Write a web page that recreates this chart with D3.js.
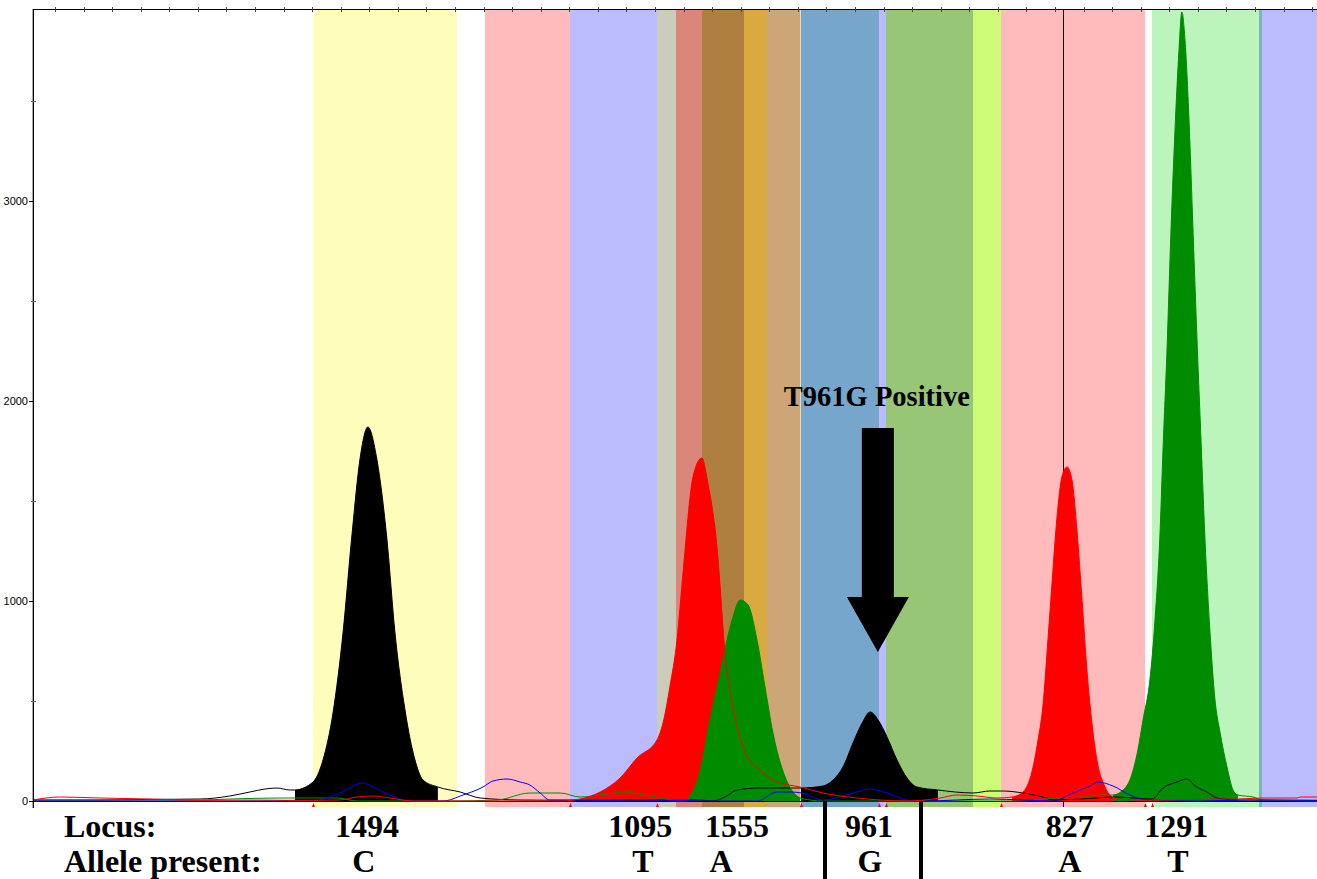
<!DOCTYPE html>
<html><head><meta charset="utf-8">
<script src="https://cdn.jsdelivr.net/npm/d3@7"></script>
<style>html,body{margin:0;padding:0;background:#fff;overflow:hidden}</style>
</head><body><svg id="c" width="1317" height="879"></svg>
<script>
// ---------- DATA ----------
const bandStarts = [903, 1505, 1802.5, 2107, 2173.5, 2264.5, 2411.5, 2492, 2611, 2884, 2908.5, 3213, 3311, 3839.5, 4214, 4224.5];
const bandEnds   = [1407, 1802.5, 2107, 2173.5, 2264.5, 2411.5, 2492, 2609, 2884, 2908.5, 3213, 3311, 3815, 4214, 4224.5, 4417];
const bandColors = ["#FFFDBB", "#FFBBBB", "#BBBBFF", "#CCCCBB", "#DA8678", "#AF7F40", "#DAAA40", "#CCA677", "#77A6CC", "#BBBBFF", "#97C677", "#CDFB77", "#FFBBBB", "#BBF5BB", "#80B4BC", "#BBBBFF"];

const traceBlack = [[-77,5],[157,5],[332,8],[507,10],[612,25],[682,45],[735,60],[777,65],[822,55],[840,55],[903,95],[938,205],[973,440],[1008,840],[1040,1340],[1068,1715],[1095,1870],[1127,1705],[1162,1305],[1190,840],[1225,455],[1260,205],[1288,105],[1340,70],[1418,45],[1488,15],[1628,5],[1908,3],[2258,5],[2300,0],[2345,20],[2387,55],[2468,65],[2572,65],[2611,65],[2688,75],[2723,105],[2758,170],[2793,290],[2825,390],[2853,445],[2881,405],[2912,320],[2947,205],[2982,115],[3017,70],[3090,55],[3213,40],[3272,50],[3318,50],[3388,40],[3458,20],[3493,5],[3588,10],[3710,20],[3773,15],[3840,10],[3878,65],[3927,95],[3962,110],[3990,75],[4032,45],[4067,15],[4137,5],[4417,3]];
const traceRed = [[-77,5],[17,20],[157,15],[332,10],[507,3],[682,5],[857,3],[997,5],[1057,20],[1113,25],[1172,15],[1253,0],[1488,0],[1768,0],[1838,10],[1908,45],[1978,115],[2037,215],[2107,305],[2128,390],[2152,570],[2177,805],[2198,1140],[2233,1620],[2264,1715],[2285,1590],[2317,1270],[2345,740],[2373,470],[2415,245],[2468,155],[2527,95],[2608,70],[2688,40],[2807,15],[2888,5],[2982,0],[3098,15],[3157,30],[3227,25],[3297,15],[3350,20],[3388,45],[3420,150],[3440,300],[3458,480],[3475,800],[3490,1100],[3507,1420],[3524,1620],[3542,1670],[3560,1600],[3577,1350],[3595,1000],[3612,650],[3630,380],[3650,180],[3672,80],[3692,30],[3720,10],[3832,3],[4067,10],[4137,10],[4228,15],[4347,15],[4358,20],[4417,20]];
const traceGreen = [[-77,5],[507,5],[612,10],[788,15],[987,15],[1057,0],[1382,0],[1547,5],[1662,40],[1768,40],[1838,20],[1908,30],[1995,45],[2082,25],[2170,5],[2212,5],[2258,155],[2292,405],[2328,640],[2352,805],[2370,905],[2398,1005],[2426,980],[2457,805],[2485,570],[2513,340],[2544,165],[2572,70],[2608,15],[2688,0],[3378,0],[3507,15],[3622,20],[3658,30],[3703,30],[3738,55],[3762,105],[3790,255],[3808,405],[3832,605],[3850,905],[3868,1355],[3878,1755],[3892,2255],[3906,2855],[3920,3355],[3934,3755],[3944,3945],[3955,3805],[3969,3405],[3983,2855],[3997,2305],[4011,1805],[4025,1305],[4042,855],[4060,505],[4078,340],[4102,170],[4123,55],[4140,30],[4193,20],[4228,5],[4417,0]];
const traceBlue = [[-77,0],[612,0],[917,5],[997,40],[1078,90],[1113,70],[1172,30],[1242,0],[1358,0],[1428,30],[1498,70],[1533,100],[1582,110],[1628,95],[1662,80],[1698,40],[1732,5],[1802,5],[1908,3],[2048,5],[2292,0],[2457,0],[2527,45],[2572,45],[2614,40],[2688,5],[2807,45],[2853,60],[2912,40],[2982,5],[3038,0],[3272,10],[3388,5],[3493,0],[3563,40],[3622,75],[3650,95],[3703,75],[3762,30],[3822,5],[4008,0],[4182,5],[4417,3]];

const blackFillRanges = [[840,1340],[2611,3090]];
const redFillRanges   = [[1768,2345],[3350,3720]];
const greenFillRanges = [[2212,2608],[3703,4140]];

const yTickValues = [0,1000,2000,3000];
const yMinorValues = [500,1500,2500,3500];
const xTickValues = d3.range(0, 4401, 100);
const binMarks = [903, 1802.5, 2107, 2611, 2884, 2908.5, 3311, 3815, 3839.5];
const refLineX = 3528;

const locusLabels = ["1494","1095","1555","961","827","1291"];
const locusX      = [1092, 2048, 2387, 2849, 3552, 3924];
const alleleLabels = ["C","T","A","G","A","T"];
const alleleX      = [1081, 2058, 2331, 2852, 3552, 3930];
const dividerX = [2695, 3031];

const annotText = "T961G Positive";
const arrowX = 2880, arrowTop = 1865, arrowHeadBase = 1020, arrowTip = 745, annotBaseline = 1975;

// ---------- DRAW ----------
const x = d3.scaleLinear().domain([-77, 4417]).range([33, 1317]);
const y = d3.scaleLinear().domain([0, 3960]).range([801, 9]);
const svg = d3.select('#c');

svg.append('defs').append('clipPath').attr('id','plot')
  .append('rect').attr('x',33).attr('y',y(3960)).attr('width',1317-33).attr('height',y(-30)-y(3960));

const plot = svg.append('g').attr('clip-path','url(#plot)');

plot.append('g').selectAll('rect').data(bandColors).join('rect')
  .attr('x',(d,i)=>x(bandStarts[i])).attr('width',(d,i)=>x(bandEnds[i])-x(bandStarts[i]))
  .attr('y',y(3960)).attr('height',y(-30)-y(3960)).attr('fill',d=>d);

plot.append('line').attr('x1',Math.round(x(refLineX))+0.5).attr('x2',Math.round(x(refLineX))+0.5)
  .attr('y1',y(3960)).attr('y2',y(-30)).attr('stroke','#000').attr('stroke-width',1);

const area = d3.area().curve(d3.curveMonotoneX).x(d=>x(d[0])).y0(y(0)).y1(d=>y(d[1]));
const line = d3.line().curve(d3.curveMonotoneX).x(d=>x(d[0])).y(d=>y(d[1]));
const seg = (tr,r)=>tr.filter(d=>d[0]>=r[0]&&d[0]<=r[1]);

redFillRanges.forEach(r=>plot.append('path').attr('d',area(seg(traceRed,r))).attr('fill','#FF0000'));
blackFillRanges.forEach(r=>plot.append('path').attr('d',area(seg(traceBlack,r))).attr('fill','#000'));
greenFillRanges.forEach(r=>plot.append('path').attr('d',area(seg(traceGreen,r))).attr('fill','#008C00'));

// baseline axis line
plot.append('line').attr('x1',33).attr('x2',1317).attr('y1',y(0)+0.5).attr('y2',y(0)+0.5).attr('stroke','#000');

[[traceBlack,'#000'],[traceGreen,'#008C00'],[traceBlue,'#0000FF'],[traceRed,'#FF0000']].forEach(([t,c])=>{
  plot.append('path').attr('d',line(t)).attr('fill','none').attr('stroke',c).attr('stroke-width',1);
});

// bin marks
plot.append('g').selectAll('path').data(binMarks).join('path')
  .attr('d',d=>{const cx=Math.round(x(d))+0.5, b=y(0)+2; return `M${cx},${b}L${cx-1.5},${b+4}L${cx+1.5},${b+4}Z`;})
  .attr('fill','#FF0000');

// top axis
svg.append('line').attr('x1',33).attr('x2',1317).attr('y1',9.5).attr('y2',9.5).attr('stroke','#000');
svg.append('g').selectAll('line').data(xTickValues).join('line')
  .attr('x1',d=>Math.round(x(d))+0.5).attr('x2',d=>Math.round(x(d))+0.5)
  .attr('y1',7).attr('y2',12).attr('stroke','#444');

// left axis
svg.append('line').attr('x1',32.5).attr('x2',32.5).attr('y1',9).attr('y2',808).attr('stroke','#aaa');
svg.append('line').attr('x1',33.5).attr('x2',33.5).attr('y1',9).attr('y2',808).attr('stroke','#000');
svg.append('g').selectAll('line').data(yTickValues).join('line')
  .attr('x1',29).attr('x2',34).attr('y1',d=>Math.round(y(d))+0.5).attr('y2',d=>Math.round(y(d))+0.5).attr('stroke','#000');
svg.append('g').selectAll('line').data(yMinorValues).join('line')
  .attr('x1',31).attr('x2',36).attr('y1',d=>Math.round(y(d))+0.5).attr('y2',d=>Math.round(y(d))+0.5).attr('stroke','#666');
svg.append('g').selectAll('text').data(yTickValues).join('text')
  .attr('x',28).attr('y',d=>y(d)+4).attr('text-anchor','end')
  .attr('font-family','Liberation Sans, Arial, sans-serif').attr('font-size',11).text(d=>d);

// labels
const serif = 'Liberation Serif, Times New Roman, serif';
svg.append('text').attr('x',64).attr('y',837).attr('font-family',serif).attr('font-weight','bold').attr('font-size',32).text('Locus:');
svg.append('text').attr('x',64).attr('y',872).attr('font-family',serif).attr('font-weight','bold').attr('font-size',32).text('Allele present:');
svg.append('g').selectAll('text').data(locusLabels).join('text')
  .attr('x',(d,i)=>x(locusX[i])).attr('y',837).attr('text-anchor','middle')
  .attr('font-family',serif).attr('font-weight','bold').attr('font-size',32).text(d=>d);
svg.append('g').selectAll('text').data(alleleLabels).join('text')
  .attr('x',(d,i)=>x(alleleX[i])).attr('y',872).attr('text-anchor','middle')
  .attr('font-family',serif).attr('font-weight','bold').attr('font-size',32).text(d=>d);
svg.append('g').selectAll('line').data(dividerX).join('line')
  .attr('x1',d=>x(d)).attr('x2',d=>x(d)).attr('y1',y(0)).attr('y2',879)
  .attr('stroke','#000').attr('stroke-width',4);

// annotation arrow
const ax = x(arrowX);
svg.append('path').attr('d',
  `M${ax-16},${y(arrowTop)}L${ax+16},${y(arrowTop)}L${ax+16},${y(arrowHeadBase)}L${ax+31},${y(arrowHeadBase)}L${ax},${y(arrowTip)}L${ax-31},${y(arrowHeadBase)}L${ax-16},${y(arrowHeadBase)}Z`)
  .attr('fill','#000');
svg.append('text').attr('x',ax-1).attr('y',y(annotBaseline)).attr('text-anchor','middle')
  .attr('font-family',serif).attr('font-weight','bold').attr('font-size',28.5).text(annotText);
</script>
</body></html>
